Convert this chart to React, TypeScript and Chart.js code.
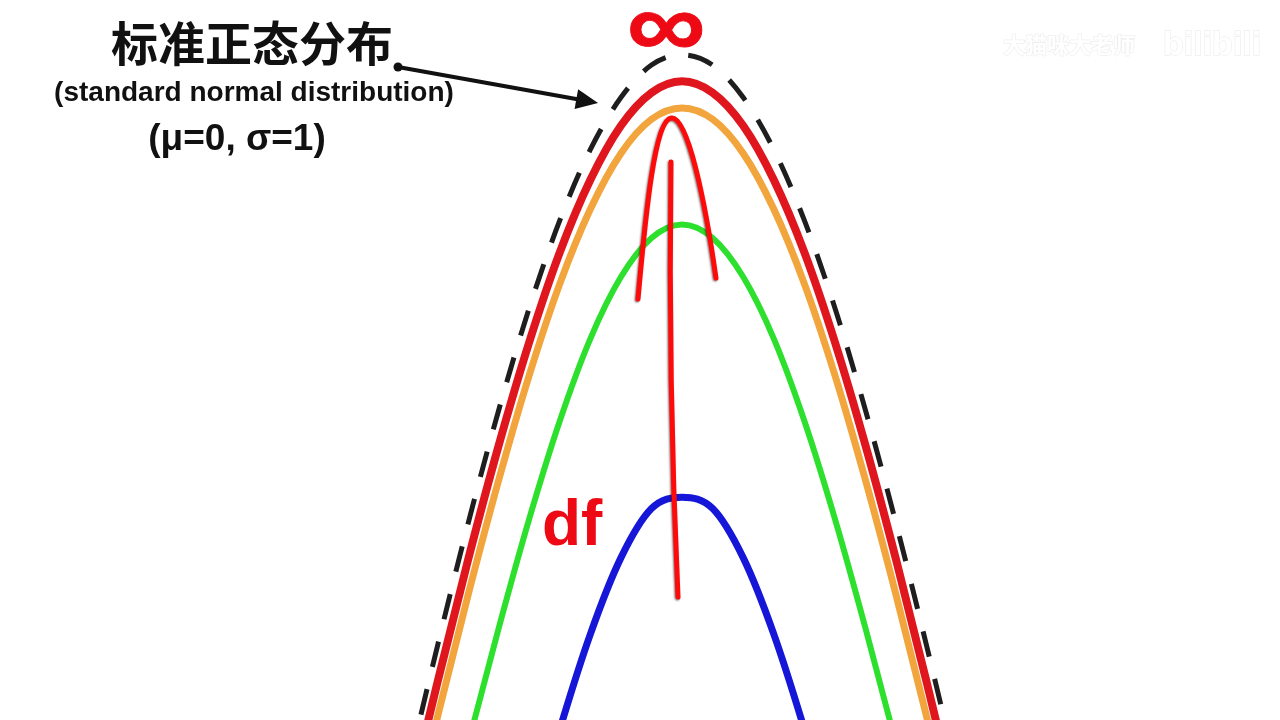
import React, { useEffect, useRef } from "react";
import { Chart, registerables } from "chart.js";

Chart.register(...registerables);

// t values (x axis, in standard-deviation units)
const tValues = [-1.0, -0.9, -0.8, -0.7, -0.6, -0.5, -0.4, -0.3, -0.2, -0.1, 0, 0.1, 0.2, 0.3, 0.4, 0.5, 0.6, 0.7, 0.8, 0.9, 1.0];

// densities
const normalDensity = [0.2420, 0.2661, 0.2897, 0.3123, 0.3332, 0.3521, 0.3683, 0.3814, 0.3910, 0.3970, 0.3989, 0.3970, 0.3910, 0.3814, 0.3683, 0.3521, 0.3332, 0.3123, 0.2897, 0.2661, 0.2420];
const df20Density = [0.2360, 0.2597, 0.2830, 0.3056, 0.3267, 0.3458, 0.3624, 0.3758, 0.3858, 0.3919, 0.3940, 0.3919, 0.3858, 0.3758, 0.3624, 0.3458, 0.3267, 0.3056, 0.2830, 0.2597, 0.2360];
const df10Density = [0.2304, 0.2535, 0.2766, 0.2991, 0.3203, 0.3397, 0.3566, 0.3704, 0.3807, 0.3870, 0.3891, 0.3870, 0.3807, 0.3704, 0.3566, 0.3397, 0.3203, 0.2991, 0.2766, 0.2535, 0.2304];
const df3Density = [0.2067, 0.2279, 0.2497, 0.2716, 0.2930, 0.3132, 0.3313, 0.3465, 0.3579, 0.3651, 0.3676, 0.3651, 0.3579, 0.3465, 0.3313, 0.3132, 0.2930, 0.2716, 0.2497, 0.2279, 0.2067];
const df1Density = [0.1592, 0.1759, 0.1941, 0.2136, 0.2341, 0.2546, 0.2744, 0.2920, 0.3061, 0.3152, 0.3173, 0.3152, 0.3061, 0.2920, 0.2744, 0.2546, 0.2341, 0.2136, 0.1941, 0.1759, 0.1592];

const seriesLabels = ["正态分布", "df=20", "df=10", "df=3", "df=1"];

// visible window of the zoomed-in view
const X_MIN = -2.229;
const X_MAX = 1.954;
const Y_MIN = 0.2762;
const Y_MAX = 0.409;

const toPoints = (ys: number[]) => tValues.map((x, i) => ({ x, y: ys[i] }));

const annotationPlugin = {
  id: "handAnnotations",
  afterDatasetsDraw(chart: any) {
    const ctx: CanvasRenderingContext2D = chart.ctx;
    const a = chart.chartArea;
    const ox = a.left;
    const oy = a.top;

    // hand-drawn red arrow
    ctx.save();
    ctx.strokeStyle = "#ff0a0a";
    ctx.lineWidth = 5;
    ctx.lineCap = "round";
    ctx.lineJoin = "round";
    ctx.shadowColor = "rgba(40,0,0,0.55)";
    ctx.shadowBlur = 2;
    ctx.shadowOffsetX = -1;
    ctx.shadowOffsetY = 1;
    ctx.beginPath();
    ctx.moveTo(ox + 678, oy + 597);
    ctx.quadraticCurveTo(ox + 668, oy + 380, ox + 671, oy + 162);
    ctx.stroke();
    ctx.beginPath();
    ctx.moveTo(ox + 638, oy + 299);
    ctx.bezierCurveTo(ox + 646, oy + 210, ox + 655, oy + 118, ox + 672, oy + 118);
    ctx.bezierCurveTo(ox + 688, oy + 118, ox + 705, oy + 200, ox + 716, oy + 278);
    ctx.stroke();
    ctx.restore();

    // texts
    ctx.save();
    ctx.fillStyle = "#111111";
    ctx.textAlign = "center";
    ctx.textBaseline = "middle";
    ctx.font = "bold 47px 'Noto Sans CJK SC'";
    ctx.fillText("标准正态分布", ox + 252, oy + 43);
    ctx.textBaseline = "alphabetic";
    ctx.font = "bold 28px 'Liberation Sans'";
    ctx.fillText("(standard normal distribution)", ox + 254, oy + 101);
    ctx.font = "bold 37px 'Liberation Sans'";
    ctx.fillText("(μ=0, σ=1)", ox + 237, oy + 150);

    // black pointer arrow
    const sx = ox + 398, sy = oy + 67;
    const tx = ox + 598, ty = oy + 103;
    const ang = Math.atan2(ty - sy, tx - sx);
    ctx.fillStyle = "#111111";
    ctx.strokeStyle = "#111111";
    ctx.lineWidth = 4;
    ctx.beginPath();
    ctx.arc(sx, sy, 4.5, 0, Math.PI * 2);
    ctx.fill();
    ctx.beginPath();
    ctx.moveTo(sx, sy);
    ctx.lineTo(tx - 18 * Math.cos(ang), ty - 18 * Math.sin(ang));
    ctx.stroke();
    const hl = 22, hw = 10;
    const bx = tx - hl * Math.cos(ang), by = ty - hl * Math.sin(ang);
    ctx.beginPath();
    ctx.moveTo(tx, ty);
    ctx.lineTo(bx + hw * Math.sin(ang), by - hw * Math.cos(ang));
    ctx.lineTo(bx - hw * Math.sin(ang), by + hw * Math.cos(ang));
    ctx.closePath();
    ctx.fill();

    // red labels
    ctx.fillStyle = "#ee0a14";
    ctx.strokeStyle = "#ee0a14";
    ctx.textAlign = "left";
    ctx.textBaseline = "alphabetic";
    ctx.font = "bold 64px 'Liberation Sans'";
    ctx.fillText("df", ox + 542, oy + 545);

    // infinity symbol: scaled to its box
    ctx.font = "bold 100px 'Liberation Sans'";
    const m = ctx.measureText("∞");
    const gw = m.actualBoundingBoxLeft + m.actualBoundingBoxRight;
    const gh = m.actualBoundingBoxAscent + m.actualBoundingBoxDescent;
    const targetW = 72;
    const targetH = 36;
    ctx.save();
    ctx.translate(ox + 666, oy + 30);
    const kx = targetW / gw;
    const ky = targetH / gh;
    ctx.scale(kx, ky);
    ctx.lineWidth = 0.8 / Math.min(kx, ky);
    ctx.lineJoin = "round";
    const gx = -gw / 2 + m.actualBoundingBoxLeft;
    const gy = -gh / 2 + m.actualBoundingBoxAscent;
    ctx.strokeText("∞", gx, gy);
    ctx.fillText("∞", gx, gy);
    ctx.restore();

    // faint watermark
    ctx.textBaseline = "middle";
    ctx.font = "bold 22px 'Noto Sans CJK SC'";
    ctx.fillStyle = "rgba(255,255,255,1)";
    ctx.strokeStyle = "rgba(0,0,0,0.07)";
    ctx.lineWidth = 1.5;
    ctx.strokeText("大猫咪大老师", ox + 1003, oy + 45);
    ctx.fillText("大猫咪大老师", ox + 1003, oy + 45);
    ctx.font = "bold 34px 'Liberation Sans'";
    ctx.strokeText("bilibili", ox + 1163, oy + 46);
    ctx.fillText("bilibili", ox + 1163, oy + 46);
    ctx.restore();
  },
};

export default function App() {
  const canvasRef = useRef<HTMLCanvasElement | null>(null);

  useEffect(() => {
    document.body.style.margin = "0";
    document.body.style.background = "#ffffff";
    const canvas = canvasRef.current;
    if (!canvas) return;
    const common = {
      pointRadius: 0,
      fill: false,
      cubicInterpolationMode: "monotone" as const,
    };
    const chart = new Chart(canvas, {
      type: "line",
      data: {
        datasets: [
          { ...common, label: seriesLabels[0], data: toPoints(normalDensity), borderColor: "#1e1e1e", borderWidth: 5, borderDash: [26, 23] },
          { ...common, label: seriesLabels[1], data: toPoints(df20Density), borderColor: "#e0161e", borderWidth: 8 },
          { ...common, label: seriesLabels[2], data: toPoints(df10Density), borderColor: "#f2a53c", borderWidth: 7 },
          { ...common, label: seriesLabels[3], data: toPoints(df3Density), borderColor: "#2ee02e", borderWidth: 6 },
          { ...common, label: seriesLabels[4], data: toPoints(df1Density), borderColor: "#1616d8", borderWidth: 7 },
        ],
      },
      options: {
        responsive: false,
        animation: false,
        layout: { padding: 0 },
        plugins: { legend: { display: false }, tooltip: { enabled: false }, title: { display: false } },
        scales: {
          x: { type: "linear", min: X_MIN, max: X_MAX, display: false },
          y: { type: "linear", min: Y_MIN, max: Y_MAX, display: false },
        },
      },
      plugins: [annotationPlugin],
    });
    return () => chart.destroy();
  }, []);

  return (
    <div style={{ position: "absolute", left: 0, top: 0, width: 1280, height: 720, background: "#ffffff" }}>
      <canvas ref={canvasRef} width={1280} height={720} style={{ display: "block" }} />
    </div>
  );
}
